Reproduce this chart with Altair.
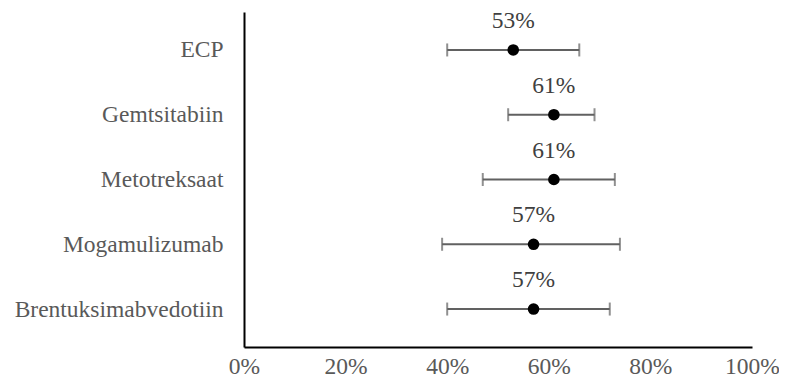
import altair as alt
import pandas as pd

categories = ["ECP", "Gemtsitabiin", "Metotreksaat", "Mogamulizumab", "Brentuksimabvedotiin"]
values = [0.53, 0.61, 0.61, 0.57, 0.57]
lower = [0.40, 0.52, 0.47, 0.39, 0.40]
upper = [0.66, 0.69, 0.73, 0.74, 0.72]
labels = ["53%", "61%", "61%", "57%", "57%"]
x_ticks = [0, 0.2, 0.4, 0.6, 0.8, 1.0]

df = pd.DataFrame({"cat": categories, "val": values, "lo": lower, "hi": upper, "lab": labels})

FONT = "Liberation Serif"
FS = 23.5
x_scale = alt.Scale(domain=[0, 1], nice=False, zero=True)
y_scale = alt.Scale(type="point", padding=0.586)
y_enc = alt.Y("cat:N", sort=categories, title=None, scale=y_scale,
              axis=alt.Axis(domainColor="black", domainWidth=2, ticks=False,
                            labelFont=FONT, labelFontSize=FS, labelColor="#595959",
                            labelPadding=21, labelLimit=0, grid=False))

base = alt.Chart(df)

rule = base.mark_rule(color="#616161", strokeWidth=2).encode(
    x=alt.X("lo:Q", scale=x_scale, title=None,
            axis=alt.Axis(values=x_ticks, format=".0%", domainColor="black", domainWidth=2,
                          ticks=False, grid=False, labelFont=FONT, labelFontSize=FS,
                          labelColor="#595959", labelBaseline="alphabetic",
                          labelPadding=26.5, labelFlush=False)),
    x2="hi:Q",
    y=y_enc,
)
cap_lo = base.mark_tick(color="#616161", thickness=2, size=13).encode(
    x=alt.X("lo:Q", scale=x_scale), y=alt.Y("cat:N", sort=categories, scale=y_scale))
cap_hi = base.mark_tick(color="#616161", thickness=2, size=13).encode(
    x=alt.X("hi:Q", scale=x_scale), y=alt.Y("cat:N", sort=categories, scale=y_scale))
pts = base.mark_circle(color="black", opacity=1, size=135).encode(
    x=alt.X("val:Q", scale=x_scale), y=alt.Y("cat:N", sort=categories, scale=y_scale))
txt = base.mark_text(font=FONT, fontSize=FS, color="#404040", baseline="alphabetic", dy=-22).encode(
    x=alt.X("val:Q", scale=x_scale), y=alt.Y("cat:N", sort=categories, scale=y_scale), text="lab:N")

chart = alt.layer(rule, cap_lo, cap_hi, pts, txt).properties(
    width=508, height=335,
    background="white",
    autosize=alt.AutoSizeParams(type="none"),
    padding={"left": 236, "top": 4, "right": 27, "bottom": 32},
).configure_view(strokeWidth=0)

chart.save("out.html", embed_options={"renderer": "svg", "actions": False})
